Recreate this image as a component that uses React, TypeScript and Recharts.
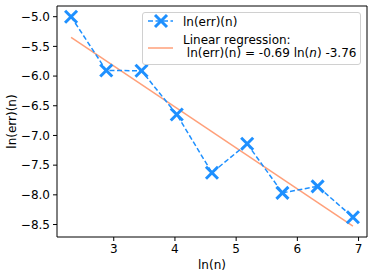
import { ComposedChart, Line, XAxis, YAxis, Legend, ReferenceLine } from "recharts";

// ln(n) for n = 10 ... 1000 (log spaced) and measured ln(err)(n)
const lnN = [2.303, 2.878, 3.454, 4.03, 4.605, 5.18, 5.756, 6.331, 6.908];
const lnErr = [-5.0, -5.906, -5.91, -6.647, -7.628, -7.14, -7.966, -7.857, -8.377];

// regression line endpoints: -0.69 ln(n) - 3.76
const fitX = [2.303, 6.908];
const fitY = [-5.349, -8.526];

const xTicks = [3, 4, 5, 6, 7];
const yTicks = [-8.5, -8.0, -7.5, -7.0, -6.5, -6.0, -5.5, -5.0];
const xDomain = [2.073, 7.138];
const yDomain = [-8.71, -4.82];

const BLUE = "#1E90FF";
const SALMON = "#FFA07A";
const FONT = "DejaVu Sans";

const points = lnN.map((x, i) => ({ x, y: lnErr[i] }));
const fit = fitX.map((x, i) => ({ x, y: fitY[i] }));

const fmtY = (v: number) => v.toFixed(1).replace("-", "\u2212");

const Cross = (props: any) => {
  const { cx, cy, index } = props;
  if (cx == null || cy == null) return <g key={index} />;
  const s = 6;
  return (
    <g key={index}>
      <line x1={cx - s} y1={cy - s} x2={cx + s} y2={cy + s} stroke={BLUE} strokeWidth={3} />
      <line x1={cx - s} y1={cy + s} x2={cx + s} y2={cy - s} stroke={BLUE} strokeWidth={3} />
    </g>
  );
};

const LegendBox = () => (
  <div
    style={{
      width: 219,
      height: 53,
      boxSizing: "border-box",
      border: "1px solid #d0d0d0",
      borderRadius: 3,
      background: "rgba(255,255,255,0.8)",
      fontFamily: FONT,
      fontSize: 12,
      color: "#000",
      position: "relative",
    }}
  >
    <svg width={40} height={51} style={{ position: "absolute", left: 0, top: 0 }}>
      <line x1={5} y1={8} x2={30} y2={8} stroke={BLUE} strokeWidth={1.5} strokeDasharray="5 2.5" />
      <line x1={12} y1={2} x2={24} y2={14} stroke={BLUE} strokeWidth={3} />
      <line x1={12} y1={14} x2={24} y2={2} stroke={BLUE} strokeWidth={3} />
      <line x1={5} y1={35} x2={30} y2={35} stroke={SALMON} strokeWidth={1.5} />
    </svg>
    <div style={{ position: "absolute", left: 40, top: 2, lineHeight: "15px", whiteSpace: "pre" }}>
      ln(err)(n)
    </div>
    <div style={{ position: "absolute", left: 40, top: 21, lineHeight: "13px", whiteSpace: "pre" }}>
      {"Linear regression:"}
      <br />
      {" ln(err)(n) = -0.69 ln("}
      <i>n</i>
      {") -3.76"}
    </div>
  </div>
);

export default function App() {
  return (
    <div style={{ position: "absolute", left: 0, top: 0, background: "#fff" }}>
      <ComposedChart width={374} height={277} margin={{ top: 6, right: 7, bottom: 0, left: 0 }}>
        <XAxis
          dataKey="x"
          type="number"
          domain={xDomain}
          ticks={xTicks}
          allowDataOverflow
          height={40}
          tickSize={4}
          tickMargin={3}
          stroke="#000"
          tick={{ fill: "#000", fontSize: 12, fontFamily: FONT }}
          label={{ value: "ln(n)", position: "insideBottom", offset: 8, fill: "#000", fontSize: 12, fontFamily: FONT }}
        />
        <YAxis
          type="number"
          domain={yDomain}
          ticks={yTicks}
          allowDataOverflow
          width={57}
          tickSize={4}
          tickMargin={3}
          stroke="#000"
          tickFormatter={fmtY}
          tick={{ fill: "#000", fontSize: 12, fontFamily: FONT }}
          label={{
            value: "ln(err)(n)",
            angle: -90,
            position: "insideLeft",
            offset: 12,
            fill: "#000",
            fontSize: 12,
            fontFamily: FONT,
            style: { textAnchor: "middle" },
          }}
        />
        <ReferenceLine y={yDomain[1]} stroke="#000" strokeWidth={1} ifOverflow="visible" />
        <ReferenceLine x={xDomain[1]} stroke="#000" strokeWidth={1} ifOverflow="visible" />
        <Line
          data={fit}
          dataKey="y"
          type="linear"
          stroke={SALMON}
          strokeWidth={1.5}
          dot={false}
          activeDot={false}
          isAnimationActive={false}
        />
        <Line
          data={points}
          dataKey="y"
          type="linear"
          stroke={BLUE}
          strokeWidth={1.5}
          strokeDasharray="5 2.5"
          dot={Cross}
          activeDot={false}
          isAnimationActive={false}
        />
        <Legend
          layout="horizontal"
          verticalAlign="middle"
          align="center"
          content={LegendBox}
          wrapperStyle={{ left: 142, top: 12, width: 219, height: 53 }}
        />
      </ComposedChart>
    </div>
  );
}
